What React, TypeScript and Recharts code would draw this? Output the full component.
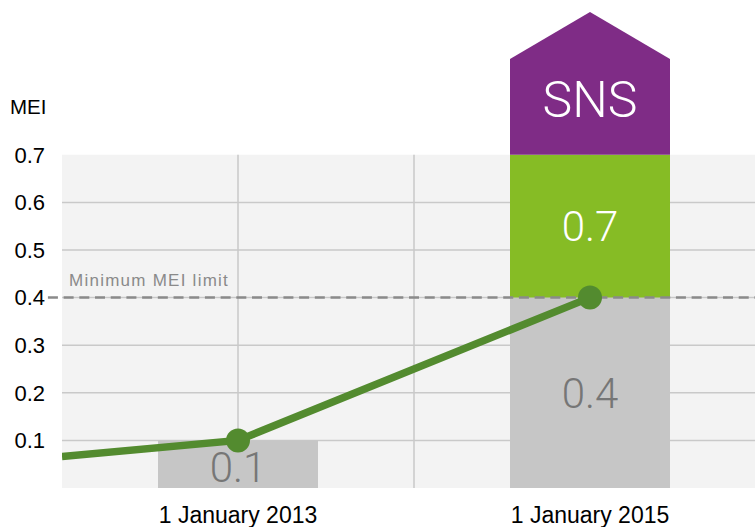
import React from 'react';
import {
  ComposedChart, Bar, Line, XAxis, YAxis, CartesianGrid, ReferenceLine, ReferenceArea, LabelList,
} from 'recharts';

const years = [2012, 2013, 2015];
const baseValues: (number | null)[] = [null, 0.1, 0.4];
const greenValues: (number | null)[] = [null, null, 0.3];
const snsValues: (number | null)[] = [null, null, 0.3];
const lineValues = [0.066, 0.1, 0.4];
const baseLabels = ['', '0.1', '0.4'];
const greenLabels = ['', '', '0.7'];
const snsLabels = ['', '', 'SNS'];
const yTicks = [0.1, 0.2, 0.3, 0.4, 0.5, 0.6, 0.7];
const gridValues = [0.1, 0.2, 0.3, 0.4, 0.5, 0.6];
const xTicks = [2013, 2015];
const verticalGrid = [2013, 2014, 2015];
const minLimit = 0.4;
const bgTop = 0.7;
const xDomain: [number, number] = [2012, 2015.9375];

const data = years.map((year, i) => ({
  year,
  base: baseValues[i],
  green: greenValues[i],
  sns: snsValues[i],
  line: lineValues[i],
  baseLabel: baseLabels[i],
  greenLabel: greenLabels[i],
  snsLabel: snsLabels[i],
}));

const SANS = '"Liberation Sans", Arial, Helvetica, sans-serif';
const LIGHT = 'Roboto, "Liberation Sans", sans-serif';

const makeLabel = (fill: string, size: number, frac = 0.5) =>
  (props: any) => {
    const { x, y, width, height, value } = props;
    if (!value) return null;
    const h = Number(height);
    const shift = h < 60 ? 2.5 : 0;
    return (
      <text
        x={Number(x) + Number(width) / 2}
        y={Number(y) + h * frac + shift}
        dy="0.355em"
        textAnchor="middle"
        fill={fill}
        fontSize={size}
        fontFamily={LIGHT}
        fontWeight={300}
      >
        {value}
      </text>
    );
  };

const HouseShape = (props: any) => {
  const { x, y, width, height, fill } = props;
  if (!height || height <= 0) return null;
  const shoulder = y + height * 0.329;
  const d = `M${x},${y + height} L${x},${shoulder} L${x + width / 2},${y} L${x + width},${shoulder} L${x + width},${y + height} Z`;
  return <path d={d} fill={fill} />;
};

const LineDot = (props: any) => {
  const { cx, cy, index } = props;
  if (index === 0 || cx == null || cy == null) return <g key={`d${index}`} />;
  return <circle key={`d${index}`} cx={cx} cy={cy} r={12} fill="#538b2f" />;
};

const LimitLabel = (props: any) => {
  const { viewBox } = props;
  return (
    <text
      x={69}
      y={viewBox.y - 12}
      fill="#8a8a8a"
      fontSize={17}
      fontFamily={SANS}
      letterSpacing={1.25}
    >
      Minimum MEI limit
    </text>
  );
};

export default function App() {
  return (
    <div style={{ position: 'absolute', left: 0, top: 0, width: 755, height: 527, background: '#fff' }}>
      <ComposedChart
        width={755}
        height={527}
        data={data}
        margin={{ top: 12, right: 0, bottom: 0, left: 0 }}
      >
        <ReferenceArea
          x1={xDomain[0]}
          x2={xDomain[1]}
          y1={0}
          y2={bgTop}
          fill="#f3f3f3"
          fillOpacity={1}
          stroke="none"
          zIndex={-200}
        />
        <CartesianGrid
          vertical={false}
          horizontalValues={gridValues}
          stroke="#c9c9c9"
          strokeWidth={1.5}
          zIndex={-100}
        />
        {verticalGrid.map((v) => (
          <ReferenceLine
            key={v}
            segment={[{ x: v, y: 0 }, { x: v, y: bgTop }]}
            stroke="#c9c9c9"
            strokeWidth={1.5}
            zIndex={-90}
          />
        ))}
        <XAxis
          dataKey="year"
          type="number"
          domain={xDomain}
          allowDataOverflow
          ticks={xTicks}
          interval={0}
          tickFormatter={(v: number) => `1 January ${v}`}
          axisLine={false}
          tickLine={false}
          tickSize={0}
          tickMargin={19}
          height={39}
          tick={{ fill: '#000', fontSize: 23, fontFamily: SANS }}
        />
        <YAxis
          type="number"
          domain={[0, 1]}
          allowDataOverflow
          ticks={yTicks}
          interval={0}
          tickFormatter={(v: number) => v.toFixed(1)}
          axisLine={false}
          tickLine={false}
          tickSize={0}
          tickMargin={17}
          width={62}
          tick={{ fill: '#000', fontSize: 22, fontFamily: SANS }}
        />
        <Bar dataKey="base" stackId="s" fill="#c6c6c6" barSize={160} isAnimationActive={false}>
          <LabelList dataKey="baseLabel" content={makeLabel('#767676', 42)} />
        </Bar>
        <Bar dataKey="green" stackId="s" fill="#86bc25" barSize={160} isAnimationActive={false}>
          <LabelList dataKey="greenLabel" content={makeLabel('#ffffff', 42)} />
        </Bar>
        <Bar dataKey="sns" stackId="s" fill="#7f2c86" barSize={160} shape={HouseShape} isAnimationActive={false}>
          <LabelList dataKey="snsLabel" content={makeLabel('#ffffff', 50, 0.608)} />
        </Bar>
        <ReferenceLine
          segment={[{ x: 2011.92, y: minLimit }, { x: xDomain[1], y: minLimit }]}
          ifOverflow="visible"
          stroke="#8a8a8a"
          strokeWidth={2.5}
          strokeDasharray="10 5.7"
          label={<LimitLabel />}
        />
        <Line
          dataKey="line"
          type="linear"
          stroke="#538b2f"
          strokeWidth={7.5}
          dot={LineDot}
          activeDot={false}
          isAnimationActive={false}
        />
      </ComposedChart>
      <div
        style={{
          position: 'absolute',
          left: 10,
          top: 97,
          fontFamily: SANS,
          fontSize: 20.5,
          color: '#000',
          lineHeight: 1,
        }}
      >
        MEI
      </div>
    </div>
  );
}
